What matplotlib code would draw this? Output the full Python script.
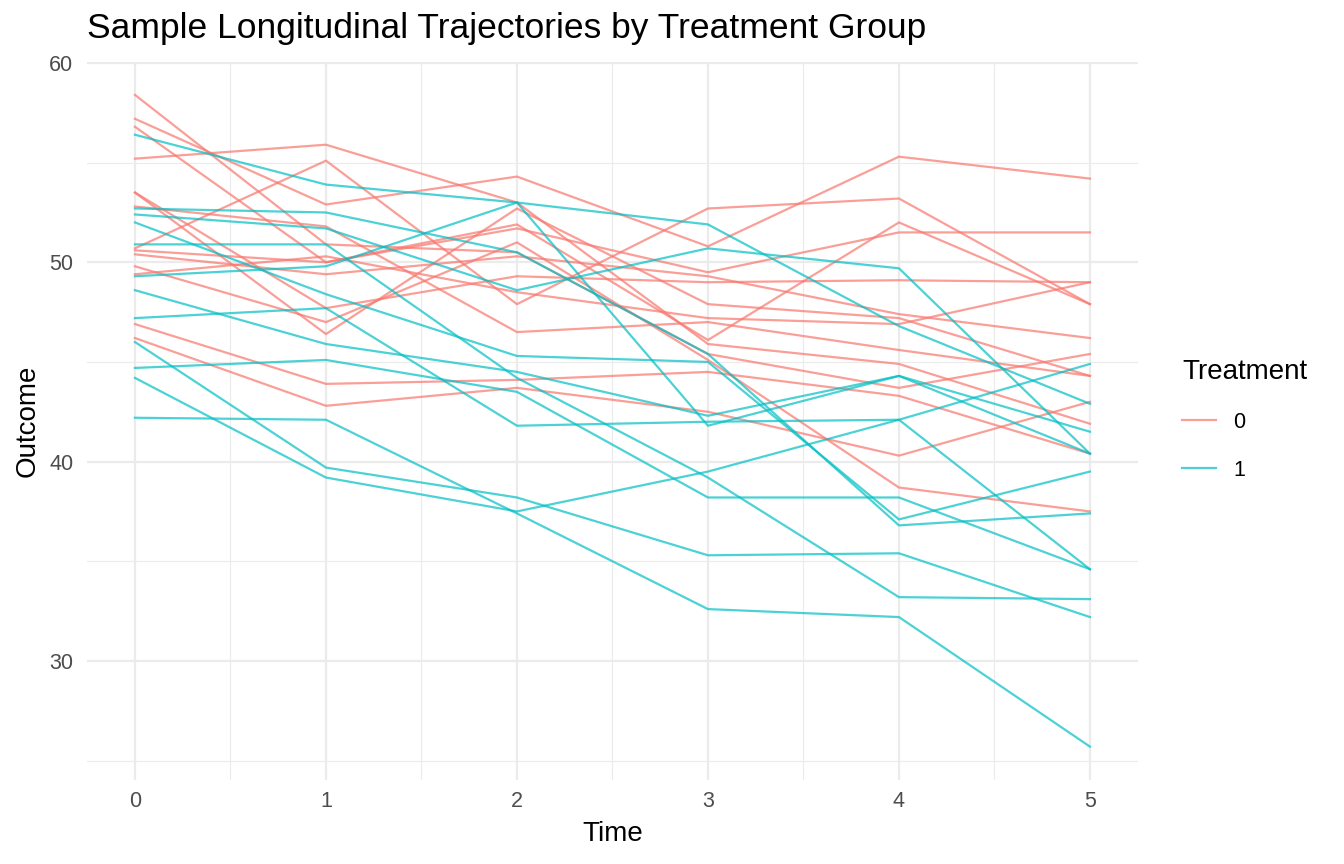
import matplotlib
matplotlib.use("Agg")
import matplotlib.pyplot as plt
from matplotlib.ticker import MultipleLocator
from matplotlib.lines import Line2D

plt.rcParams['font.family'] = ['Liberation Sans', 'DejaVu Sans']

# time points
time = [0, 1, 2, 3, 4, 5]

# outcome trajectories, one row per subject
# treatment 0
outcome_trt0 = [
    [58.4, 50.9, 50.5, 45.4, 43.7, 45.4],
    [57.2, 52.9, 54.3, 50.8, 55.3, 54.2],
    [56.8, 50.0, 51.7, 49.5, 51.5, 51.5],
    [55.2, 55.9, 53.0, 45.9, 44.9, 41.9],
    [53.5, 47.7, 49.3, 49.0, 49.1, 49.0],
    [53.5, 46.4, 52.7, 47.9, 47.2, 44.3],
    [52.8, 51.8, 46.5, 47.0, 45.6, 44.3],
    [50.7, 55.1, 47.9, 52.7, 53.2, 47.9],
    [50.6, 50.0, 51.9, 46.1, 52.0, 47.9],
    [50.4, 49.4, 50.3, 49.3, 47.4, 46.2],
    [49.8, 47.0, 51.0, 45.1, 38.7, 37.5],
    [49.4, 50.3, 48.5, 47.2, 46.9, 49.0],
    [46.9, 43.9, 44.1, 44.5, 43.3, 40.4],
    [46.2, 42.8, 43.7, 42.5, 40.3, 43.0],
]
# treatment 1
outcome_trt1 = [
    [56.4, 53.9, 53.0, 51.9, 46.8, 42.9],
    [52.7, 52.5, 50.5, 45.4, 36.8, 37.4],
    [52.4, 51.7, 48.6, 50.7, 49.7, 40.4],
    [52.0, 48.4, 45.3, 45.0, 37.1, 39.5],
    [50.9, 50.9, 44.2, 39.2, 33.2, 33.1],
    [49.3, 49.8, 53.0, 41.8, 44.3, 40.4],
    [48.6, 45.9, 44.5, 42.3, 44.3, 41.5],
    [47.2, 47.7, 41.8, 42.0, 42.1, 34.6],
    [46.0, 39.7, 38.2, 35.3, 35.4, 32.2],
    [44.7, 45.1, 43.5, 38.2, 38.2, 34.6],
    [44.2, 39.2, 37.5, 39.5, 42.1, 44.9],
    [42.2, 42.1, 37.4, 32.6, 32.2, 25.7],
]

trt_labels = ['0', '1']
trt_colors = ['#F8766D', '#00BFC4']

fig = plt.figure(figsize=(13.44, 8.64), dpi=100)
ax = fig.add_axes([0.0649, 0.0978, 0.7816, 0.8309])

for group, color in zip([outcome_trt0, outcome_trt1], trt_colors):
    for subj in group:
        ax.plot(time, subj, color=color, alpha=0.7, lw=1.6)

ax.set_xlim(-0.25, 5.25)
ax.set_ylim(24.05, 60.07)
ax.xaxis.set_major_locator(MultipleLocator(1))
ax.xaxis.set_minor_locator(MultipleLocator(0.5))
ax.yaxis.set_major_locator(MultipleLocator(10))
ax.yaxis.set_minor_locator(MultipleLocator(5))
ax.grid(which='major', color='#EBEBEB', lw=1.6)
ax.grid(which='minor', color='#EBEBEB', lw=0.8)
ax.set_axisbelow(True)
for s in ax.spines.values():
    s.set_visible(False)
ax.tick_params(which='both', length=0, labelsize=15.5, labelcolor='#4D4D4D')
ax.tick_params(axis='x', pad=8)
ax.tick_params(axis='y', pad=10)

ax.set_xlabel('Time', fontsize=20, labelpad=7)
ax.set_ylabel('Outcome', fontsize=20, labelpad=6)
ax.set_title('Sample Longitudinal Trajectories by Treatment Group',
             fontsize=25.5, loc='left', x=0.0, pad=17)

handles = [Line2D([0], [0], color=c, alpha=0.7, lw=1.6) for c in trt_colors]
fig.legend(handles, trt_labels, title='Treatment', frameon=False,
           loc='center left', bbox_to_anchor=(0.865, 0.514),
           fontsize=15.5, title_fontsize=20, handlelength=1.6,
           labelspacing=1.25, alignment='left')

fig.savefig('out.png', dpi=100)
